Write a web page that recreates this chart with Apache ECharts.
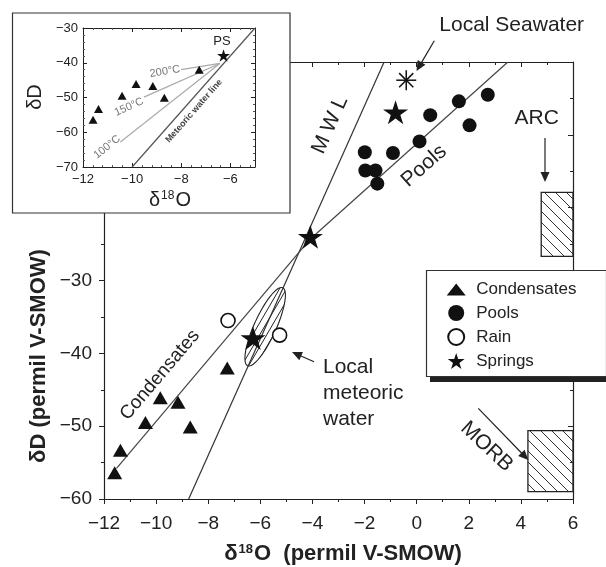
<!DOCTYPE html>
<html><head><meta charset="utf-8">
<script src="https://cdn.jsdelivr.net/npm/echarts/dist/echarts.min.js"></script>
<style>html,body{margin:0;padding:0;background:#fff}#c{width:606px;height:567px}</style>
</head><body><div id="c"></div>
<script>
// ---- data ----
const condensatesO = [-11.59, -11.37, -10.41, -9.84, -9.16, -8.69, -7.27];
const condensatesD = [-56.4, -53.3, -49.5, -46.1, -46.7, -50.1, -42.0];
const poolsO = [-1.99, -0.91, -1.97, -1.58, -1.51, 0.11, 0.52, 1.62, 2.03, 2.73];
const poolsD = [-12.4, -12.5, -14.9, -14.9, -16.7, -10.9, -7.3, -5.4, -8.7, -4.5];
const rainO = [-7.24, -5.26];
const rainD = [-35.5, -37.5];
const springsO = [-6.28, -4.08, -0.81];
const springsD = [-37.9, -24.0, -6.9];
const seawater = [[-0.40, -2.5]];
const mwlMain = [[-8.75, -60], [-1.25, 0]];
const condLine = [[-11.52, -55.8], [-4.08, -24.3]];
const poolsLine = [[-4.08, -24.3], [3.5, 0]];
const meteoricEllipse = [[-6.49, -41.7, -5.14, -31.0]]; // major-axis ends
const arcBox = [[4.78, -26.7, 6, -17.9]];
const morbBox = [[4.27, -59.0, 6, -50.6]];
const insetMwl = [[-10, -70], [-5, -30]];
const insetConv = [-6.43, -40.2];
const t200End = [-8.01, -42.0];
const t150End = [-9.52, -49.9];
const t100End = [-10.48, -62.8];
const mainXTicks = {min: -12, max: 6, interval: 2};
const mainYTicks = {min: -60, max: 0, interval: 10};
const insetXTicks = {min: -12, max: -5, interval: 2};
const insetYTicks = {min: -70, max: -30, interval: 10};

const zip = (a, b) => a.map((v, i) => [v, b[i]]);
const F = "'Liberation Sans', Arial, Helvetica, sans-serif";
const INK = '#222';
const minus = v => (v < 0 ? '\u2212' + Math.abs(v) : String(v));
const STAR = 'path://M50,0 L61.2,34.5 L97.6,34.5 L68.2,55.9 L79.4,90.5 L50,69.1 L20.6,90.5 L31.8,55.9 L2.4,34.5 L38.8,34.5 Z';
const TRI_ICON = 'path://M0,0 L0,0 M0,16 L0,16 M0,14 L9.5,2 L19,14 Z';

function hatch(w, h, dir, col) {
  const c = document.createElement('canvas');
  c.width = w; c.height = h;
  const g = c.getContext('2d');
  g.strokeStyle = col; g.lineWidth = 1;
  g.beginPath();
  for (let k = -1; k <= 1; k++) {
    if (dir === 'back') { // "\"
      g.moveTo(-w + k * w, -h); g.lineTo(2 * w + k * w, 2 * h);
    } else { // "/"
      g.moveTo(-w + k * w, 2 * h); g.lineTo(2 * w + k * w, -h);
    }
  }
  g.stroke();
  return {image: c, repeat: 'repeat'};
}
const boxPattern = hatch(11, 11, 'back', '#333');
const ellPattern = hatch(7, 12, 'fwd', '#222');

function renderEllipse(params, api) {
  const p1 = api.coord([api.value(0), api.value(1)]);
  const p2 = api.coord([api.value(2), api.value(3)]);
  const cx = (p1[0] + p2[0]) / 2, cy = (p1[1] + p2[1]) / 2;
  const dx = (p2[0] - p1[0]) / 2, dy = (p2[1] - p1[1]) / 2;
  const a = Math.hypot(dx, dy), ux = dx / a, uy = dy / a, b = 11;
  const pts = [];
  for (let i = 0; i < 90; i++) {
    const t = i / 90 * 2 * Math.PI;
    const ca = Math.cos(t) * a, sb = Math.sin(t) * b;
    pts.push([cx + ux * ca - uy * sb, cy + uy * ca + ux * sb]);
  }
  return {type: 'polygon', shape: {points: pts}, style: {fill: ellPattern, stroke: '#222', lineWidth: 1.1}};
}
function renderBox(params, api) {
  const p1 = api.coord([api.value(0), api.value(1)]);
  const p2 = api.coord([api.value(2), api.value(3)]);
  return {type: 'rect', shape: {x: Math.min(p1[0], p2[0]), y: Math.min(p1[1], p2[1]),
    width: Math.abs(p2[0] - p1[0]), height: Math.abs(p2[1] - p1[1])},
    style: {fill: boxPattern, stroke: INK, lineWidth: 1.3}};
}
function renderAsterisk(params, api) {
  const p = api.coord([api.value(0), api.value(1)]);
  const r = 10, ch = [];
  for (let k = 0; k < 4; k++) {
    const a = k * Math.PI / 4;
    ch.push({type: 'line', shape: {x1: p[0] - r * Math.cos(a), y1: p[1] - r * Math.sin(a),
      x2: p[0] + r * Math.cos(a), y2: p[1] + r * Math.sin(a)}, style: {stroke: '#111', lineWidth: 1.5}});
  }
  return {type: 'group', children: ch};
}

function arrow(x1, y1, x2, y2) {
  const L = 10, W = 4.5;
  const dx = x2 - x1, dy = y2 - y1, d = Math.hypot(dx, dy), ux = dx / d, uy = dy / d;
  const bx = x2 - ux * L, by = y2 - uy * L;
  return [
    {type: 'line', shape: {x1, y1, x2: bx + ux * 2, y2: by + uy * 2}, style: {stroke: INK, lineWidth: 1.2}, z: 50},
    {type: 'polygon', shape: {points: [[x2, y2], [bx - uy * W, by + ux * W], [bx + uy * W, by - ux * W]]}, style: {fill: INK}, z: 50}
  ];
}
function txt(x, y, text, size, opts) {
  opts = opts || {};
  return {type: 'text', x, y, rotation: (opts.rot || 0) * Math.PI / 180, z: opts.z || 50,
    style: Object.assign({text, fontSize: size, fontFamily: F, fill: opts.color || INK,
      fontWeight: opts.bold ? 'bold' : 'normal', align: opts.align || 'center',
      verticalAlign: opts.valign || 'middle', lineHeight: opts.lh}, opts.extra || {})};
}

function mkX(grid, t, pos, labels, z, size) {
  const main = grid === 0;
  return {gridIndex: grid, type: 'value', min: t.min, max: t.max, interval: t.interval, position: pos, z,
    axisLine: {onZero: false, lineStyle: {color: INK, width: main ? 1.2 : 1}},
    axisTick: {inside: !(main && labels), length: main ? 5 : 4, lineStyle: {color: INK}},
    minorTick: {show: true, splitNumber: main ? 2 : 5, length: main ? 3 : 2, lineStyle: {color: main ? INK : '#555'}},
    splitLine: {show: false},
    axisLabel: {show: labels, fontSize: size, color: INK, fontFamily: F, margin: main ? 15 : 6, formatter: minus, showMaxLabel: main}};
}
function mkY(grid, t, pos, labels, z, size) {
  const main = grid === 0;
  return {gridIndex: grid, type: 'value', min: t.min, max: t.max, interval: t.interval, position: pos, z,
    axisLine: {onZero: false, lineStyle: {color: INK, width: main ? 1.2 : 1}},
    axisTick: {inside: !(main && labels), length: main ? 5 : 4, lineStyle: {color: INK}},
    minorTick: {show: true, splitNumber: main ? 2 : 5, length: main ? 3 : 2, lineStyle: {color: main ? INK : '#555'}},
    splitLine: {show: false},
    axisLabel: {show: labels, fontSize: size, color: INK, fontFamily: F, margin: main ? 12 : 5, formatter: minus}};
}

const lineS = (data, xi, yi, color, z) => ({type: 'line', data, xAxisIndex: xi, yAxisIndex: yi, symbol: 'none',
  lineStyle: {color, width: 1.2}, z, silent: true, animation: false});
const black = {color: '#111', opacity: 1};

const graphics = [
  {type: 'rect', shape: {x: 12.5, y: 13, width: 277.5, height: 200}, style: {fill: '#fff', stroke: '#333', lineWidth: 1.2}, z: 10},
  {type: 'rect', shape: {x: 430, y: 274, width: 180, height: 108}, style: {fill: '#222'}, z: 30},
  {type: 'rect', shape: {x: 426.5, y: 270.5, width: 180, height: 106}, style: {fill: '#fff', stroke: '#333', lineWidth: 1.2}, z: 31},
  txt(39, 356, 'δD (permil V-SMOW)', 22, {rot: 90, bold: true}),
  txt(343, 554, '{a|δ}{s|18}{a|O  (permil V-SMOW)}', 22, {bold: true, extra: {rich: {
    a: {fontSize: 22, fontWeight: 'bold', fontFamily: F, fill: INK},
    s: {fontSize: 13, fontWeight: 'bold', fontFamily: F, fill: INK, verticalAlign: 'top', padding: [0, 1, 10, 1]}}}}),
  txt(35, 97, 'δD', 20, {rot: 90, z: 60}),
  txt(170, 200, '{a|δ}{s|18}{a|O}', 20, {z: 60, extra: {rich: {
    a: {fontSize: 20, fontFamily: F, fill: INK},
    s: {fontSize: 12, fontFamily: F, fill: INK, verticalAlign: 'top', padding: [0, 1, 9, 1]}}}}),
  txt(222, 41, 'PS', 13, {z: 60}),
  txt(165, 71.5, '200°C', 11, {rot: 9, z: 60, color: '#777'}),
  txt(129, 107, '150°C', 11, {rot: 24, z: 60, color: '#777'}),
  txt(107, 147, '100°C', 11, {rot: 38.6, z: 60, color: '#777'}),
  txt(194, 111, 'Meteoric water line', 9, {rot: 48.8, z: 60, bold: true, color: '#444'}),
  txt(511.7, 25, 'Local Seawater', 21),
  txt(536.7, 118.3, 'ARC', 21),
  txt(330, 125, 'M W L', 21, {rot: 65.9}),
  txt(424, 166, 'Pools', 21, {rot: 41.5}),
  txt(160, 375, 'Condensates', 19, {rot: 49.6}),
  txt(323, 354, 'Local\nmeteoric\nwater', 21, {align: 'left', valign: 'top', lh: 26}),
  txt(486.7, 446.7, 'MORB', 21, {rot: -43}),
  ...arrow(434.3, 40.7, 416.5, 71),
  ...arrow(545, 138, 545, 182),
  ...arrow(314, 361.7, 292, 352),
  ...arrow(478.3, 408.3, 528.3, 460)
];

const chart = echarts.init(document.getElementById('c'), null, {renderer: 'canvas'});
chart.setOption({
  animation: false,
  backgroundColor: '#fff',
  textStyle: {fontFamily: F},
  grid: [
    {left: 104, right: 33, top: 62, bottom: 68},
    {left: 83, right: 351, top: 28, bottom: 400}
  ],
  xAxis: [
    mkX(0, mainXTicks, 'bottom', true, 1, 19),
    mkX(0, mainXTicks, 'top', false, 1, 19),
    mkX(1, insetXTicks, 'bottom', true, 20, 13),
    mkX(1, insetXTicks, 'top', false, 20, 13)
  ],
  yAxis: [
    mkY(0, mainYTicks, 'left', true, 1, 19),
    mkY(0, mainYTicks, 'right', false, 1, 19),
    mkY(1, insetYTicks, 'left', true, 20, 13),
    mkY(1, insetYTicks, 'right', false, 20, 13)
  ],
  legend: {
    orient: 'vertical', left: 446.7, top: 281, padding: 0, itemWidth: 30, itemHeight: 16, itemGap: 6.5,
    selectedMode: false, z: 40,
    textStyle: {fontSize: 17, color: INK, fontFamily: F},
    data: [{name: 'Condensates', icon: TRI_ICON}, {name: 'Pools'}, {name: 'Rain'}, {name: 'Springs'}]
  },
  series: [
    lineS(mwlMain, 0, 0, '#333', 3),
    lineS(condLine, 0, 0, '#444', 3),
    lineS(poolsLine, 0, 0, '#444', 3),
    {type: 'custom', name: 'ellipse', xAxisIndex: 0, yAxisIndex: 0, renderItem: renderEllipse, data: meteoricEllipse, z: 3, silent: true},
    {type: 'custom', name: 'arc', xAxisIndex: 0, yAxisIndex: 0, renderItem: renderBox, data: arcBox, z: 3, silent: true},
    {type: 'custom', name: 'morb', xAxisIndex: 0, yAxisIndex: 0, renderItem: renderBox, data: morbBox, z: 3, silent: true},
    {type: 'scatter', name: 'Condensates', xAxisIndex: 0, yAxisIndex: 0, data: zip(condensatesO, condensatesD),
      symbol: 'triangle', symbolSize: [15, 13], itemStyle: black, z: 5},
    {type: 'scatter', name: 'Pools', xAxisIndex: 0, yAxisIndex: 0, data: zip(poolsO, poolsD),
      symbol: 'circle', symbolSize: 14, itemStyle: black, z: 5},
    {type: 'scatter', name: 'Rain', xAxisIndex: 0, yAxisIndex: 0, data: zip(rainO, rainD),
      symbol: 'circle', symbolSize: 14, itemStyle: {color: '#fff', borderColor: '#111', borderWidth: 1.6, opacity: 1}, z: 5},
    {type: 'scatter', name: 'Springs', xAxisIndex: 0, yAxisIndex: 0, data: zip(springsO, springsD),
      symbol: STAR, symbolSize: 25, symbolKeepAspect: true, itemStyle: black, z: 6},
    {type: 'custom', name: 'seawater', xAxisIndex: 0, yAxisIndex: 0, renderItem: renderAsterisk, data: seawater, z: 6, silent: true},
    // inset
    lineS(insetMwl, 2, 2, '#555', 25),
    lineS([insetConv, t200End], 2, 2, '#aaa', 25),
    lineS([insetConv, t150End], 2, 2, '#aaa', 25),
    lineS([insetConv, t100End], 2, 2, '#aaa', 25),
    {type: 'scatter', name: 'inset-cond', xAxisIndex: 2, yAxisIndex: 2, data: zip(condensatesO, condensatesD),
      symbol: 'triangle', symbolSize: [9, 8], itemStyle: black, z: 26},
    {type: 'scatter', name: 'inset-ps', xAxisIndex: 2, yAxisIndex: 2, data: [[springsO[0], springsD[0]]],
      symbol: STAR, symbolSize: 13, symbolKeepAspect: true, itemStyle: black, z: 26}
  ],
  graphic: graphics
});
</script>
</body></html>
